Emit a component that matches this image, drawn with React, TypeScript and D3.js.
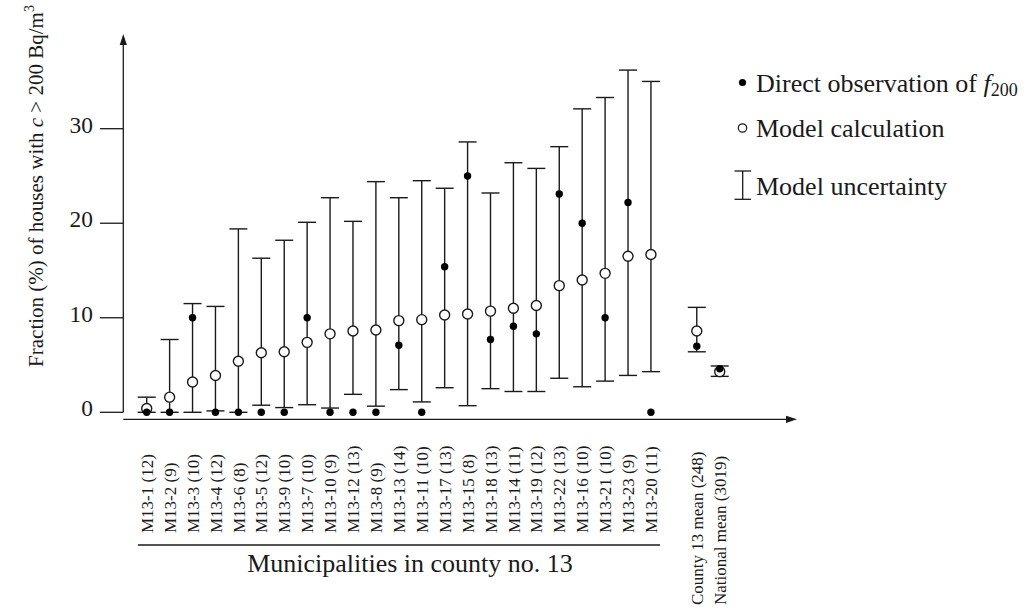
import React from "react";
import * as d3 from "d3";

// ---- data ----
const municipalities = [
  "M13-1", "M13-2", "M13-3", "M13-4", "M13-6", "M13-5", "M13-9", "M13-7",
  "M13-10", "M13-12", "M13-8", "M13-13", "M13-11", "M13-17", "M13-15", "M13-18",
  "M13-14", "M13-19", "M13-22", "M13-16", "M13-21", "M13-23", "M13-20",
];
const houseCounts = [12, 9, 10, 12, 8, 12, 10, 10, 9, 13, 9, 14, 10, 13, 8, 13, 11, 12, 13, 10, 10, 9, 11];
const observed = [0, 0, 10, 0, 0, 0, 0, 10, 0, 0, 0, 7.1, 0, 15.4, 25.0, 7.7, 9.1, 8.3, 23.1, 20.0, 10.0, 22.2, 0];
const modelValue = [0.4, 1.6, 3.2, 3.9, 5.4, 6.3, 6.4, 7.4, 8.3, 8.6, 8.7, 9.7, 9.8, 10.3, 10.4, 10.7, 11.0, 11.3, 13.4, 14.0, 14.7, 16.5, 16.7];
const modelLow = [0, 0, 0, 0.15, 0, 0.75, 0.5, 0.8, 0.45, 1.9, 0.65, 2.4, 1.1, 2.6, 0.7, 2.5, 2.2, 2.2, 3.6, 2.7, 3.3, 3.9, 4.3];
const modelHigh = [1.6, 7.7, 11.5, 11.2, 19.4, 16.3, 18.2, 20.1, 22.7, 20.2, 24.4, 22.7, 24.5, 23.7, 28.6, 23.2, 26.4, 25.8, 28.1, 32.1, 33.3, 36.2, 35.0];

const meanLabels = ["County 13 mean", "National mean"];
const meanCounts = [248, 3019];
const meanObserved = [7.0, 4.6];
const meanModel = [8.6, 4.3];
const meanLow = [6.4, 3.8];
const meanHigh = [11.1, 4.9];

const yTicks = [0, 10, 20, 30];

const legendItems = ["Direct observation of ", "Model calculation", "Model uncertainty"];

// ---- layout ----
const W = 1035;
const H = 615;
const serif = "Liberation Serif";
const ink = "#1a1a1a";

type Row = { label: string; n: number; obs: number; mod: number; lo: number; hi: number; idx: number };

const rows: Row[] = [
  ...municipalities.map((m, i) => ({
    label: m, n: houseCounts[i], obs: observed[i], mod: modelValue[i], lo: modelLow[i], hi: modelHigh[i], idx: i,
  })),
  ...meanLabels.map((m, i) => ({
    label: m, n: meanCounts[i], obs: meanObserved[i], mod: meanModel[i], lo: meanLow[i], hi: meanHigh[i],
    idx: municipalities.length + 1 + i,
  })),
];

export default function App() {
  const x = d3.scaleLinear().domain([0, 25]).range([146.7, 719.7]);
  const y = d3.scaleLinear().domain([0, 30]).range([412.3, 128.7]);

  const axisX = 123.3;
  const axisY = 419.3;
  const cap = 9;

  const lastMun = municipalities.length - 1;

  return (
    <svg
      width={W}
      height={H}
      viewBox={`0 0 ${W} ${H}`}
      style={{ position: "absolute", left: 0, top: 0, background: "#fff", fontFamily: serif }}
    >
      <rect x={0} y={0} width={W} height={H} fill="#fff" />

      {/* y axis */}
      <line x1={axisX} y1={y(0)} x2={axisX} y2={44} stroke={ink} strokeWidth={1.3} />
      <path d={`M${axisX},34 L${axisX - 3.6},45 L${axisX + 3.6},45 Z`} fill={ink} />
      {yTicks.map((t) => (
        <g key={t}>
          <line x1={100} x2={axisX} y1={y(t)} y2={y(t)} stroke={ink} strokeWidth={1.3} />
          <text x={93} y={y(t) + 4} textAnchor="end" fontSize={23.4} fill={ink} fontFamily={serif}>
            {t}
          </text>
        </g>
      ))}

      {/* x axis */}
      <line x1={axisX} y1={axisY} x2={787} y2={axisY} stroke={ink} strokeWidth={1.3} />
      <path d={`M797,${axisY} L786,${axisY - 3.6} L786,${axisY + 3.6} Z`} fill={ink} />

      {/* y axis title */}
      <text
        transform={`translate(43,186) rotate(-90)`}
        textAnchor="middle"
        fontSize={21}
        fill={ink}
        fontFamily={serif}
      >
        Fraction (%) of houses with <tspan fontStyle="italic">c</tspan> &gt; 200 Bq/m
        <tspan fontSize={14} dy={-9}>3</tspan>
      </text>

      {/* error bars */}
      {rows.map((r) => {
        const cx = x(r.idx);
        return (
          <g key={"e" + r.label} stroke={ink} strokeWidth={1.4}>
            <line x1={cx} x2={cx} y1={y(r.lo)} y2={y(r.hi)} />
            <line x1={cx - cap} x2={cx + cap} y1={y(r.hi)} y2={y(r.hi)} />
            <line x1={cx - cap} x2={cx + cap} y1={y(r.lo)} y2={y(r.lo)} />
          </g>
        );
      })}

      {/* model circles */}
      {rows.map((r) => (
        <circle key={"m" + r.label} cx={x(r.idx)} cy={y(r.mod)} r={5} fill="#fff" stroke={ink} strokeWidth={1.4} />
      ))}

      {/* observations */}
      {rows.map((r) => (
        <circle key={"o" + r.label} cx={x(r.idx)} cy={y(r.obs)} r={3.7} fill="#000" />
      ))}

      {/* category labels */}
      {rows.map((r) => {
        const isMean = r.idx > lastMun;
        const y0 = isMean ? 605 : 533;
        return (
          <text
            key={"l" + r.label}
            transform={`translate(${x(r.idx)},${y0}) rotate(-90)`}
            dy="0.36em"
            fontSize={17}
            fill={ink}
            fontFamily={serif}
          >
            {`${r.label} (${r.n})`}
          </text>
        );
      })}

      {/* group line and label */}
      <line x1={138} x2={660} y1={545} y2={545} stroke={ink} strokeWidth={1.3} />
      <text x={410} y={572} textAnchor="middle" fontSize={26} fill={ink} fontFamily={serif}>
        Municipalities in county no. 13
      </text>

      {/* legend */}
      <circle cx={742.5} cy={82.5} r={3.6} fill="#000" />
      <text x={756} y={91.5} fontSize={26} fill={ink} fontFamily={serif}>
        {legendItems[0]}
        <tspan fontStyle="italic">f</tspan>
        <tspan fontSize={18} dy={4}>200</tspan>
      </text>
      <circle cx={742.5} cy={128} r={4.2} fill="#fff" stroke={ink} strokeWidth={1.2} />
      <text x={756} y={137} fontSize={26} fill={ink} fontFamily={serif}>
        {legendItems[1]}
      </text>
      <g stroke={ink} strokeWidth={1.3}>
        <line x1={742.7} x2={742.7} y1={171} y2={199.3} />
        <line x1={734.5} x2={751} y1={171} y2={171} />
        <line x1={734.5} x2={751} y1={199.3} y2={199.3} />
      </g>
      <text x={756} y={194.5} fontSize={26} fill={ink} fontFamily={serif}>
        {legendItems[2]}
      </text>
    </svg>
  );
}
